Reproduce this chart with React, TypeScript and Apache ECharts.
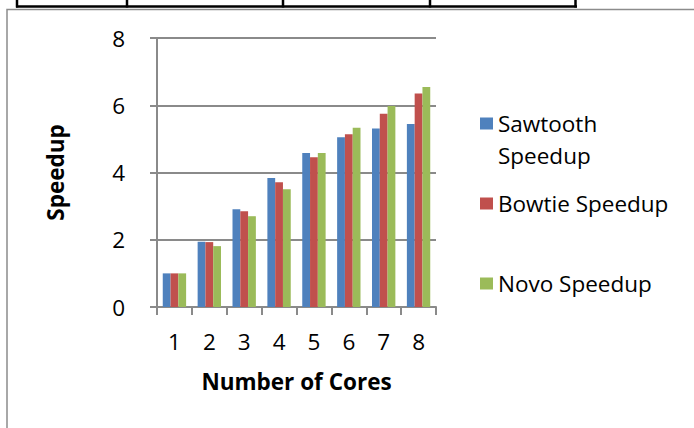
import React, { useEffect, useRef } from "react";
import * as echarts from "echarts";

// Number of cores on the x axis
const cores = ["1", "2", "3", "4", "5", "6", "7", "8"];

// Measured speedup per core count
const sawtoothSpeedup = [1.0, 1.94, 2.91, 3.84, 4.58, 5.05, 5.31, 5.44];
const bowtieSpeedup = [1.0, 1.93, 2.85, 3.71, 4.45, 5.14, 5.75, 6.35];
const novoSpeedup = [1.0, 1.81, 2.7, 3.5, 4.58, 5.33, 5.98, 6.54];

const seriesNames = ["Sawtooth Speedup", "Bowtie Speedup", "Novo Speedup"];
const seriesColors = ["#4F81BD", "#C0504D", "#9BBB59"];

const FONT = "Open Sans";
const FONT_SIZE = 22.5;
const AXIS_GRAY = "#8a8a8a";

export default function App() {
  const ref = useRef<HTMLDivElement>(null);

  useEffect(() => {
    if (!ref.current) return;
    const chart = echarts.init(ref.current, undefined, { renderer: "svg" });

    const legendText = { fontFamily: FONT, fontSize: FONT_SIZE, color: "#000" };
    const makeLegend = (name: string, top: number, label: string) => ({
      data: [name],
      left: 480,
      top,
      padding: 0,
      icon: "rect",
      itemWidth: 13,
      itemHeight: 12,
      selectedMode: false,
      formatter: () => label,
      textStyle: legendText,
    });

    const option: echarts.EChartsOption = {
      animation: false,
      textStyle: { fontFamily: FONT },
      grid: { left: 157, right: 258, top: 38, bottom: 121, containLabel: false },
      legend: [
        makeLegend(seriesNames[0], 112, "Sawtooth"),
        makeLegend(seriesNames[1], 192, "Bowtie Speedup"),
        makeLegend(seriesNames[2], 272, "Novo Speedup"),
      ] as any,
      xAxis: {
        type: "category",
        data: cores,
        name: "Number of Cores",
        nameLocation: "middle",
        nameGap: 63,
        nameTextStyle: { fontFamily: FONT, fontSize: FONT_SIZE, fontWeight: "bold", color: "#000" },
        axisLine: { show: true, lineStyle: { color: AXIS_GRAY, width: 2 } },
        axisTick: { show: true, length: 8, lineStyle: { color: AXIS_GRAY, width: 2 } },
        axisLabel: { margin: 23, fontFamily: FONT, fontSize: FONT_SIZE, color: "#000" },
        splitLine: { show: false },
      },
      yAxis: {
        type: "value",
        min: 0,
        max: 8,
        interval: 2,
        name: "Speedup",
        nameLocation: "middle",
        nameGap: 90,
        nameTextStyle: { fontFamily: FONT, fontSize: FONT_SIZE, fontWeight: "bold", color: "#000" },
        axisLine: { show: true, lineStyle: { color: AXIS_GRAY, width: 2 } },
        axisTick: { show: true, length: 7, lineStyle: { color: AXIS_GRAY, width: 2 } },
        axisLabel: { margin: 32, fontFamily: FONT, fontSize: FONT_SIZE, color: "#000" },
        splitLine: { show: true, lineStyle: { color: AXIS_GRAY, width: 2 } },
      },
      series: [sawtoothSpeedup, bowtieSpeedup, novoSpeedup].map((values, i) => ({
        name: seriesNames[i],
        type: "bar" as const,
        data: values,
        barGap: "0%",
        barCategoryGap: "33%",
        itemStyle: { color: seriesColors[i] },
      })),
      graphic: [
        // Frame around the chart area
        {
          type: "rect",
          silent: true,
          shape: { x: 7, y: 9.5, width: 800, height: 600 },
          style: { fill: "none", stroke: "#8c8c8c", lineWidth: 1.5 },
        },
        // Bottom edge of the table above the chart
        {
          type: "line",
          silent: true,
          shape: { x1: 16, y1: 6.5, x2: 577, y2: 6.5 },
          style: { stroke: "#000", lineWidth: 2.5 },
        },
        ...[17, 127, 283, 430, 575.5].map((x) => ({
          type: "line",
          silent: true,
          shape: { x1: x, y1: 0, x2: x, y2: 7.5 },
          style: { stroke: "#000", lineWidth: 2.5 },
        })),
        // Second line of the first legend entry
        {
          type: "text",
          silent: true,
          x: 498,
          y: 155,
          style: {
            text: "Speedup",
            fontFamily: FONT,
            fontSize: FONT_SIZE,
            fill: "#000",
            verticalAlign: "middle",
            align: "left",
          },
        },
      ] as any,
    };

    chart.setOption(option);
    return () => chart.dispose();
  }, []);

  return (
    <div
      ref={ref}
      style={{ position: "fixed", left: 0, top: 0, width: 694, height: 428, background: "#fff" }}
    />
  );
}
